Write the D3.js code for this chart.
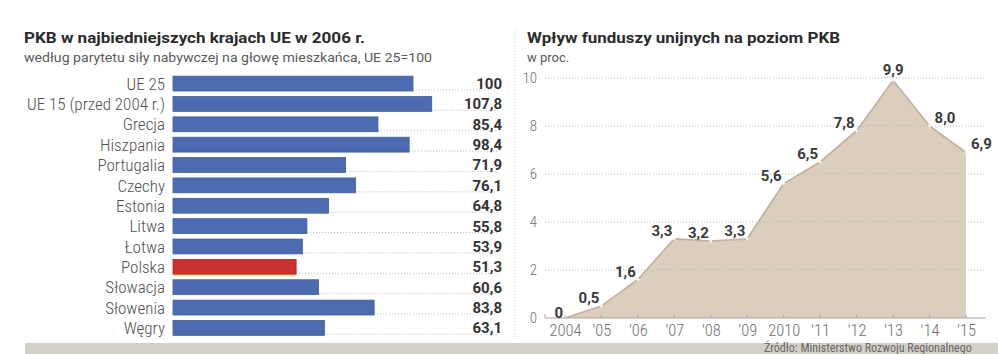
<!DOCTYPE html>
<html>
<head>
<meta charset="utf-8">
<script src="https://cdn.jsdelivr.net/npm/d3@7"></script>
<style>
  html, body { margin: 0; padding: 0; background: #fff; }
  svg { display: block; }
  text { font-family: "Roboto Condensed", "Liberation Sans Narrow", "Roboto", sans-serif; }
  .wide { font-family: "Roboto", "Open Sans", sans-serif; }
</style>
</head>
<body>
<svg id="chart" width="998" height="354"></svg>
<script>
// GDP per capita (PPS), EU25 = 100
const countries = ["UE 25", "UE 15 (przed 2004 r.)", "Grecja", "Hiszpania", "Portugalia", "Czechy",
  "Estonia", "Litwa", "Łotwa", "Polska", "Słowacja", "Słowenia", "Węgry"];
const gdpValues = [100, 107.8, 85.4, 98.4, 71.9, 76.1, 64.8, 55.8, 53.9, 51.3, 60.6, 83.8, 63.1];
const highlighted = "Polska";

// Impact of EU funds on GDP level, percent
const years = [2004, 2005, 2006, 2007, 2008, 2009, 2010, 2011, 2012, 2013, 2014, 2015];
const yearLabels = ["2004", "'05", "'06", "'07", "'08", "'09", "2010", "'11", "'12", "'13", "'14", "'15"];
const impact = [0, 0.5, 1.6, 3.3, 3.2, 3.3, 5.6, 6.5, 7.8, 9.9, 8.0, 6.9];
const impactTicks = [0, 2, 4, 6, 8, 10];

const fmt = v => (Number.isInteger(v) && v >= 10 ? String(v) : v.toFixed(1)).replace(".", ",");
const fmtLine = v => (v === 0 ? "0" : v.toFixed(1).replace(".", ","));

const svg = d3.select("#chart");

// ---------- left panel: horizontal bars ----------
const left = svg.append("g");
left.append("text").attr("class", "wide").attr("x", 24).attr("y", 43)
  .attr("font-size", 14).attr("font-weight", 700).attr("fill", "#2b2b2b")
  .attr("textLength", 341).attr("lengthAdjust", "spacingAndGlyphs")
  .text("PKB w najbiedniejszych krajach UE w 2006 r.");
left.append("text").attr("class", "wide").attr("x", 24).attr("y", 62)
  .attr("font-size", 13).attr("fill", "#5a5a5a")
  .attr("textLength", 408).attr("lengthAdjust", "spacingAndGlyphs")
  .text("według parytetu siły nabywczej na głowę mieszkańca, UE 25=100");

const xBar = d3.scaleLinear().domain([0, 100]).range([173, 413]);
const yBar = d3.scaleBand().domain(countries).range([73.5, 338]).paddingInner(0.27).paddingOuter(0.13);
const rows = countries.map((c, i) => ({ name: c, value: gdpValues[i] }));

// dotted leaders from bar end to value
left.selectAll("line.leader").data(rows).join("line")
  .attr("x1", d => xBar(d.value)).attr("x2", 498)
  .attr("y1", d => yBar(d.name) + yBar.bandwidth() - 1)
  .attr("y2", d => yBar(d.name) + yBar.bandwidth() - 1)
  .attr("stroke", "#b8b8b8").attr("stroke-width", 1).attr("stroke-dasharray", "1,2");

left.selectAll("rect.bar").data(rows).join("rect")
  .attr("x", xBar(0)).attr("y", d => yBar(d.name))
  .attr("width", d => xBar(d.value) - xBar(0)).attr("height", yBar.bandwidth())
  .attr("fill", d => d.name === highlighted ? "#c9302f" : "#4d6bb0")
  .attr("stroke", d => d.name === highlighted ? "#a8292a" : "#41609f").attr("stroke-width", 0.8);

left.selectAll("line.under").data(rows.filter(d => d.name === highlighted)).join("line")
  .attr("x1", xBar(0)).attr("x2", d => xBar(d.value))
  .attr("y1", d => yBar(d.name) + yBar.bandwidth() + 1)
  .attr("y2", d => yBar(d.name) + yBar.bandwidth() + 1)
  .attr("stroke", "#ecdc5a").attr("stroke-width", 1.2);

left.selectAll("text.cat").data(rows).join("text")
  .attr("x", 165).attr("y", d => yBar(d.name) + yBar.bandwidth() / 2)
  .attr("dy", "0.36em").attr("text-anchor", "end")
  .attr("font-size", 17).attr("font-weight", 300).attr("fill", "#505050")
  .text(d => d.name);

left.selectAll("text.val").data(rows).join("text")
  .attr("class", "wide")
  .attr("x", 502).attr("y", d => yBar(d.name) + yBar.bandwidth() / 2)
  .attr("dy", "0.36em").attr("text-anchor", "end")
  .attr("font-size", 15).attr("font-weight", 700).attr("fill", "#333")
  .text(d => fmt(d.value));

// panel separator
svg.append("line").attr("x1", 515).attr("x2", 515).attr("y1", 30).attr("y2", 338)
  .attr("stroke", "#cfcfcf").attr("stroke-dasharray", "1,2");

// ---------- right panel: area chart ----------
const right = svg.append("g");
right.append("text").attr("class", "wide").attr("x", 527).attr("y", 43)
  .attr("font-size", 14).attr("font-weight", 700).attr("fill", "#2b2b2b")
  .attr("textLength", 313).attr("lengthAdjust", "spacingAndGlyphs")
  .text("Wpływ funduszy unijnych na poziom PKB");
right.append("text").attr("class", "wide").attr("x", 527).attr("y", 62)
  .attr("font-size", 13).attr("fill", "#5a5a5a").text("w proc.");

const xLine = d3.scaleLinear().domain([2004, 2015]).range([565, 966]);
const yLine = d3.scaleLinear().domain([0, 10]).range([318, 78]);
const pts = years.map((y, i) => ({ year: y, value: impact[i] }));

right.append("path").datum(pts)
  .attr("d", d3.area().x(d => xLine(d.year)).y0(yLine(0)).y1(d => yLine(d.value)))
  .attr("fill", "#dccebd");

// gridlines
right.selectAll("line.grid").data(impactTicks.filter(t => t > 0)).join("line")
  .attr("x1", 545).attr("x2", 986).attr("y1", d => yLine(d)).attr("y2", d => yLine(d))
  .attr("stroke", "#bcb6ae").attr("stroke-width", 1).attr("stroke-dasharray", "1,2");

right.append("path").datum(pts)
  .attr("d", d3.line().x(d => xLine(d.year)).y(d => yLine(d.value)))
  .attr("fill", "none").attr("stroke", "#c4b39d").attr("stroke-width", 1.8);

right.selectAll("circle.pt").data(pts).join("circle")
  .attr("cx", d => xLine(d.year)).attr("cy", d => yLine(d.value)).attr("r", 1.4)
  .attr("fill", "#fbf8f2");

// y axis labels
right.selectAll("text.ytick").data(impactTicks).join("text")
  .attr("x", 537).attr("y", d => yLine(d)).attr("dy", "0.36em").attr("text-anchor", "end")
  .attr("font-size", 15).attr("font-weight", 300).attr("fill", "#707070").text(d => d);

// x axis
const xAxis = d3.axisBottom(xLine).tickValues(years).tickSize(0)
  .tickFormat((d, i) => yearLabels[i]);
const xg = right.append("g").attr("transform", `translate(0,${yLine(0)})`).call(xAxis);
xg.select(".domain").remove();
xg.selectAll("text").attr("font-size", 16.5).attr("font-weight", 300).attr("fill", "#707070")
  .attr("dy", "0.9em").attr("font-family", null);
right.append("line").attr("x1", 545).attr("x2", 986).attr("y1", yLine(0)).attr("y2", yLine(0))
  .attr("stroke", "#a9a49e").attr("stroke-width", 1);
right.selectAll("line.xtick").data(years).join("line")
  .attr("x1", d => xLine(d)).attr("x2", d => xLine(d))
  .attr("y1", yLine(0)).attr("y2", yLine(0) - 3)
  .attr("stroke", "#a9a49e");
right.append("line").attr("x1", 545).attr("x2", 545).attr("y1", yLine(0)).attr("y2", yLine(0) - 4)
  .attr("stroke", "#a9a49e");

// value labels
const peak = d3.maxIndex(impact);
right.selectAll("text.lbl").data(pts).join("text")
  .attr("class", "wide")
  .attr("x", (d, i) => xLine(d.year) + (i < peak ? -2 : i === peak ? 0 : 5))
  .attr("y", (d, i) => yLine(d.value) + (i === 0 ? 0 : i === peak ? -5 : -3))
  .attr("text-anchor", (d, i) => i < peak ? "end" : i === peak ? "middle" : "start")
  .attr("font-size", 15).attr("font-weight", 700).attr("fill", "#3a3a3a")
  .text(d => fmtLine(d.value));

// ---------- footer band ----------
svg.append("rect").attr("x", 25).attr("y", 343).attr("width", 973).attr("height", 11)
  .attr("fill", "#d3d0ca");
svg.append("text").attr("x", 764).attr("y", 352).attr("font-size", 12).attr("fill", "#6a6660")
  .text("Źródło: Ministerstwo Rozwoju Regionalnego");
</script>
</body>
</html>
